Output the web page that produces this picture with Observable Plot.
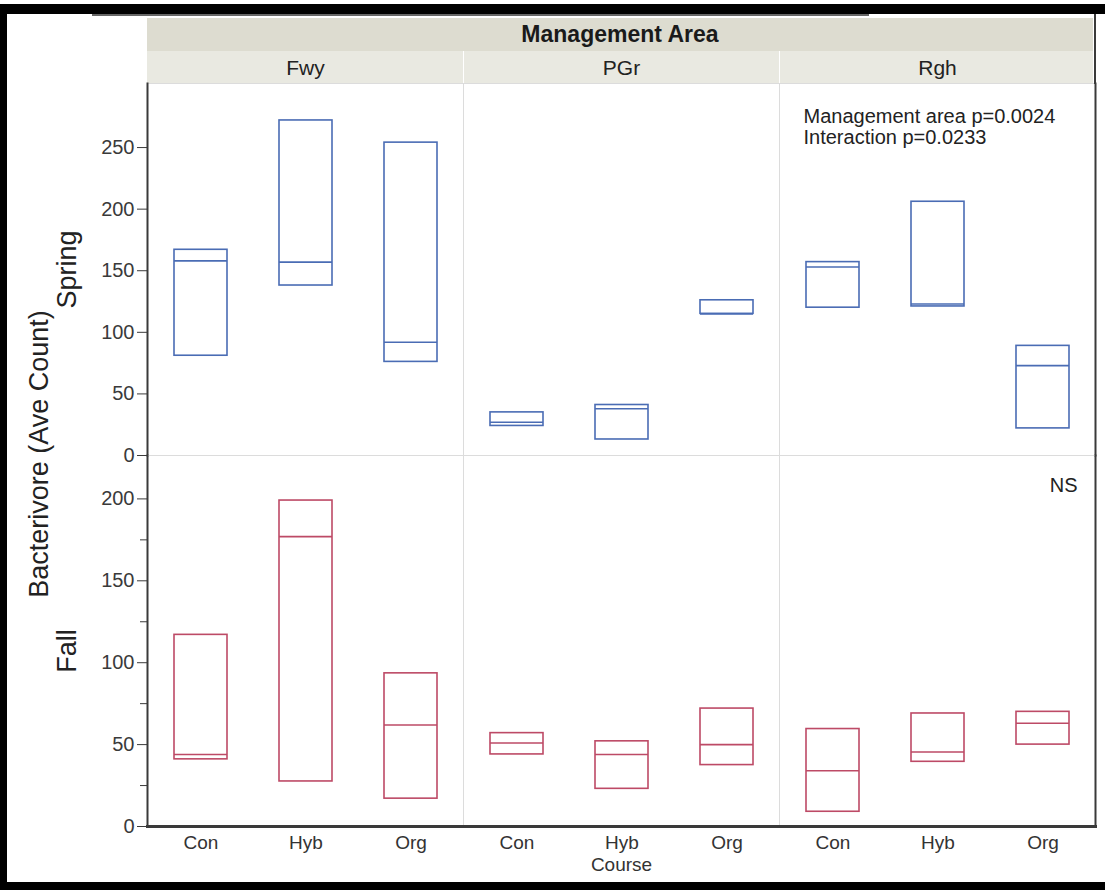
<!DOCTYPE html>
<html>
<head>
<meta charset="utf-8">
<script src="https://cdn.jsdelivr.net/npm/d3@7"></script>
<script src="https://cdn.jsdelivr.net/npm/@observablehq/plot@0.6"></script>
<style>
  html, body { margin: 0; padding: 0; background: #fff; }
  #chart { position: relative; width: 1105px; height: 890px; overflow: hidden; background: #fff;
           font-family: "Liberation Sans", Arial, Helvetica, sans-serif; color: #222; }
  #chart > * { position: absolute; }
  .edge { background: #000; }
  .strip-title { top: 18px; height: 33px; background: #dddcd0; font-weight: bold; font-size: 23px;
                 line-height: 33px; text-align: center; color: #1a1a1a; }
  .strip-cell { top: 51px; height: 32px; background: #e9e9e1; }
  .ytitle { left: 39px; top: 454px; width: 0; height: 0; }
  .ytitle span { position: absolute; left: 0; top: 0; transform: translate(-50%, -50%) rotate(-90deg);
                 white-space: nowrap; font-size: 27px; color: #222; }
</style>
</head>
<body>
<div id="chart"></div>
<script>
// Course types and management areas (facet columns)
const areas = ["Fwy", "PGr", "Rgh"];
const courses = ["Con", "Hyb", "Org"];

// Bacterivore average counts; order: Fwy Con/Hyb/Org, PGr Con/Hyb/Org, Rgh Con/Hyb/Org
const springHigh = [167, 272, 254, 35, 41, 126, 157, 206, 89];
const springMid  = [158, 157, 92, 27, 38, 115, 153, 123, 73];
const springLow  = [81, 138, 76, 24, 13, 115, 120, 121, 22];

const fallHigh = [117, 199, 93.5, 57, 52, 72, 59.5, 69, 70];
const fallMid  = [44, 177, 62, 51, 44, 50, 34, 45.5, 63];
const fallLow  = [41, 27.5, 17, 44, 23, 37.5, 9, 39.5, 50];

// Axis ticks
const springTicks = [0, 50, 100, 150, 200, 250];
const fallTicks = [0, 50, 100, 150, 200];
const fallMinorTicks = [25, 75, 125, 175];

// Labels
const seasons = ["Spring", "Fall"];
const headerTitle = "Management Area";
const yTitle = "Bacterivore (Ave Count)";
const xTitle = [{area: "PGr", text: "Course"}];
const springNote = [{area: "Rgh", text: "Management area p=0.0024\nInteraction p=0.0233"}];
const fallNote = [{area: "Rgh", text: "NS"}];

const font = '"Liberation Sans", Arial, Helvetica, sans-serif';
const ink = "#222";
const gridColor = "#dcdcdc";
const axisInk = "#3a3a3a";
const springColor = "#4a6cb4";
const fallColor = "#bd4a66";

function table(high, mid, low) {
  return areas.flatMap((area, i) => courses.map((course, j) => ({
    area, course, high: high[i * 3 + j], mid: mid[i * 3 + j], low: low[i * 3 + j]
  })));
}

const shared = {
  width: 1105,
  marginLeft: 147,
  marginRight: 10,
  fx: {domain: areas, padding: 0, label: null},
  x: {domain: courses, paddingInner: 0.5, paddingOuter: 0.25, label: null},
  style: {fontFamily: font, background: "transparent", color: ink, overflow: "visible"}
};

// min–max box with a line at the middle value
function boxes(data, color) {
  return [
    Plot.barY(data, {fx: "area", x: "course", y1: "low", y2: "high", fill: "none", stroke: color, strokeWidth: 1.6}),
    Plot.tickY(data, {fx: "area", x: "course", y: "mid", stroke: color, strokeWidth: 1.6})
  ];
}

function rowLabel(text, dy) {
  return Plot.text([{area: "Fwy", text}], {
    fx: "area", text: "text", frameAnchor: "left", textAnchor: "middle", rotate: -90,
    dx: -80, dy, fontSize: 27, fill: ink
  });
}

const edgeFrames = [
  Plot.frame({anchor: "left", facetAnchor: "left", stroke: axisInk, strokeWidth: 2}),
  Plot.frame({anchor: "right", facetAnchor: "right", stroke: axisInk, strokeWidth: 2})
];

const springPlot = Plot.plot({
  ...shared,
  height: 455,
  marginTop: 83,
  marginBottom: 0,
  x: {...shared.x, axis: null},
  y: {domain: [0, 302], label: null},
  marks: [
    Plot.frame({stroke: gridColor}),
    ...boxes(table(springHigh, springMid, springLow), springColor),
    Plot.axisFx({anchor: "top", tickSize: 0, tickPadding: 9, fontSize: 21, label: null, color: ink}),
    Plot.axisY({ticks: springTicks, tickSize: 10, tickPadding: 3, fontSize: 20, label: null, color: axisInk}),
    ...edgeFrames,
    Plot.text(springNote, {
      fx: "area", text: "text", frameAnchor: "top-left", textAnchor: "start", lineAnchor: "top",
      dx: 24, dy: 25, fontSize: 20, lineHeight: 1.05, fill: ink
    }),
    rowLabel(seasons[0], 0)
  ]
});

const fallPlot = Plot.plot({
  ...shared,
  height: 435,
  marginTop: 0,
  marginBottom: 64,
  fx: {...shared.fx, axis: null},
  y: {domain: [0, 226.5], label: null},
  marks: [
    Plot.frame({stroke: gridColor}),
    ...boxes(table(fallHigh, fallMid, fallLow), fallColor),
    Plot.axisY({ticks: fallTicks, tickSize: 10, tickPadding: 3, fontSize: 20, label: null, color: axisInk}),
    Plot.axisY({ticks: fallMinorTicks, tickSize: 7, text: null, label: null, color: axisInk}),
    Plot.axisX({tickSize: 0, tickPadding: 9, fontSize: 19, label: null, color: "#333"}),
    ...edgeFrames,
    Plot.frame({anchor: "bottom", stroke: axisInk, strokeWidth: 3}),
    Plot.text(fallNote, {
      fx: "area", text: "text", frameAnchor: "top-right", textAnchor: "end", lineAnchor: "top",
      dx: -18, dy: 22, fontSize: 20, fill: ink
    }),
    Plot.text(xTitle, {fx: "area", text: "text", frameAnchor: "bottom", lineAnchor: "top", dy: 31, fontSize: 19, fill: "#333"}),
    rowLabel(seasons[1], 10)
  ]
});

const chart = document.getElementById("chart");

function addDiv(cls, css, text) {
  const d = document.createElement("div");
  if (cls) d.className = cls;
  Object.assign(d.style, css);
  if (text != null) d.textContent = text;
  chart.appendChild(d);
  return d;
}

// Header strips, laid out from the facet scale
const fx = springPlot.scale("fx");
const bw = fx.bandwidth;
const fxLeft = d3.min(areas, a => fx.apply(a));
const fxRight = d3.max(areas, a => fx.apply(a)) + bw;
addDiv("strip-title", {left: (fxLeft) + "px", width: (fxRight - fxLeft - 2) + "px"}, headerTitle);
areas.forEach((a, i) => {
  const x0 = fx.apply(a) + (i > 0 ? 1 : 0);
  const w = bw - (i > 0 ? 1 : 0) - (i === areas.length - 1 ? 2 : 0);
  addDiv("strip-cell", {left: x0 + "px", width: w + "px"});
});

springPlot.style.position = "absolute";
springPlot.style.left = "0px";
springPlot.style.top = "0px";
chart.appendChild(springPlot);

fallPlot.style.position = "absolute";
fallPlot.style.left = "0px";
fallPlot.style.top = "455px";
chart.appendChild(fallPlot);

// Vertical axis title shared by both rows
const yt = addDiv("ytitle", {});
const span = document.createElement("span");
span.textContent = yTitle;
yt.appendChild(span);

// Picture border
addDiv("edge", {left: "0px", top: "4px", width: "1105px", height: "10px"});
addDiv(null, {left: "92px", top: "14px", width: "777px", height: "2px", background: "#666"});
addDiv("edge", {left: "0px", top: "4px", width: "7px", height: "886px"});
addDiv("edge", {left: "0px", top: "882px", width: "1105px", height: "8px"});
addDiv(null, {left: "1094px", top: "14px", width: "2px", height: "70px", background: axisInk});
</script>
</body>
</html>
